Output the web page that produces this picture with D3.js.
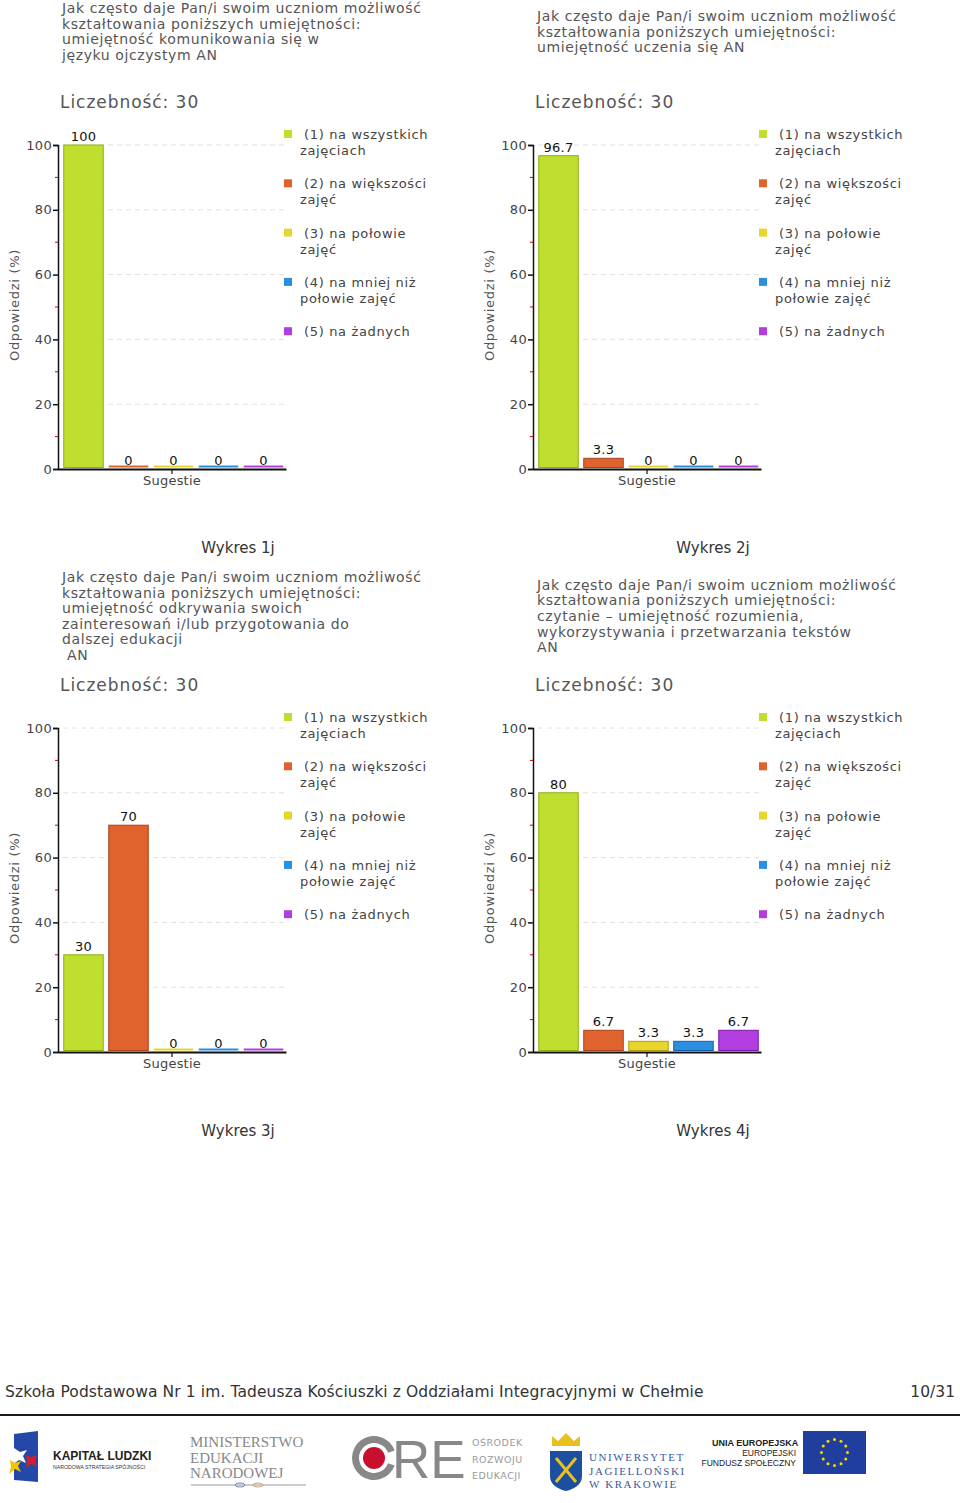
<!DOCTYPE html>
<html><head><meta charset="utf-8">
<script src="https://cdn.jsdelivr.net/npm/d3@7"></script>
<style>
html,body{margin:0;padding:0;background:#fff;}
svg{display:block;font-family:"DejaVu Sans",Verdana,sans-serif;}
</style></head>
<body>
<svg id="page" width="960" height="1503"></svg>
<script>
// ---------- data ----------
const categories = [
  ["(1) na wszystkich", "zajęciach"],
  ["(2) na większości", "zajęć"],
  ["(3) na połowie", "zajęć"],
  ["(4) na mniej niż", "połowie zajęć"],
  ["(5) na żadnych"]
];
const colors = ["#bedf2e", "#e0622c", "#e8d52e", "#2b8fe0", "#b33ee0"];
const strokes = ["#8fae12", "#a8421a", "#b0a010", "#1a5ea8", "#7a1aa8"];
const values1j = [100, 0, 0, 0, 0];
const values2j = [96.7, 3.3, 0, 0, 0];
const values3j = [30, 70, 0, 0, 0];
const values4j = [80, 6.7, 3.3, 3.3, 6.7];
const yTicks = [0, 20, 40, 60, 80, 100];
const yMinorTicks = [10, 30, 50, 70, 90];
const xCategory = ["Sugestie"];
const sampleSize = 30;
const title1j = ["Jak często daje Pan/i swoim uczniom możliwość", "kształtowania poniższych umiejętności:", "umiejętność komunikowania się w", "języku ojczystym AN"];
const title2j = ["Jak często daje Pan/i swoim uczniom możliwość", "kształtowania poniższych umiejętności:", "umiejętność uczenia się AN"];
const title3j = ["Jak często daje Pan/i swoim uczniom możliwość", "kształtowania poniższych umiejętności:", "umiejętność odkrywania swoich", "zainteresowań i/lub przygotowania do", "dalszej edukacji", " AN"];
const title4j = ["Jak często daje Pan/i swoim uczniom możliwość", "kształtowania poniższych umiejętności:", "czytanie – umiejętność rozumienia,", "wykorzystywania i przetwarzania tekstów", "AN"];
const captions = ["Wykres 1j", "Wykres 2j", "Wykres 3j", "Wykres 4j"];
const footerText = "Szkoła Podstawowa Nr 1 im. Tadeusza Kościuszki z Oddziałami Integracyjnymi w Chełmie";
const pageNumber = "10/31";

const charts = [
  {values: values1j, title: title1j, caption: captions[0], ox: 0,   oy: 0,   tc: 31.5},
  {values: values2j, title: title2j, caption: captions[1], ox: 475, oy: 0,   tc: 31.5},
  {values: values3j, title: title3j, caption: captions[2], ox: 0,   oy: 583, tc: 33},
  {values: values4j, title: title4j, caption: captions[3], ox: 475, oy: 583, tc: 33}
];

const svg = d3.select("#page");

function drawChart(cfg) {
  const g = svg.append("g").attr("transform", `translate(${cfg.ox},${cfg.oy})`);
  // title
  const lh = 15.6;
  const first = cfg.tc - (cfg.title.length - 1) * lh / 2;
  g.append("g").selectAll("text").data(cfg.title).join("text")
    .attr("x", 62).attr("y", (d, i) => first + i * lh + 5)
    .attr("font-size", 14).attr("fill", "#555").attr("letter-spacing", 0.6)
    .style("white-space", "pre")
    .text(d => d);
  g.append("text").attr("x", 60).attr("y", 108)
    .attr("font-size", 17).attr("fill", "#555").attr("letter-spacing", 0.95)
    .text("Liczebność: " + sampleSize);

  const axisX = 58, x0 = 61, x1 = 286;
  const y = d3.scaleLinear().domain([0, 100]).range([469, 145]);
  const x = d3.scaleBand().domain(d3.range(cfg.values.length)).range([x0, x1])
    .paddingInner(0.1).paddingOuter(0.05);

  // gridlines
  g.append("g").selectAll("line").data(yTicks.filter(d => d > 0)).join("line")
    .attr("x1", x0 + 2).attr("x2", x1).attr("y1", d => y(d)).attr("y2", d => y(d))
    .attr("stroke", "#e0e0e0").attr("stroke-dasharray", "5,4");

  // bars
  const base = y(0) - 1.5;
  g.append("g").selectAll("rect").data(cfg.values).join("rect")
    .attr("x", (d, i) => x(i) + 0.5)
    .attr("y", d => Math.min(y(d), base - 2))
    .attr("width", x.bandwidth() - 1)
    .attr("height", d => base - Math.min(y(d), base - 2))
    .attr("fill", (d, i) => colors[i])
    .attr("stroke", (d, i) => d > 0 ? strokes[i] : "none")
    .attr("stroke-width", 1);

  // value labels
  g.append("g").selectAll("text").data(cfg.values).join("text")
    .attr("x", (d, i) => x(i) + x.bandwidth() / 2)
    .attr("y", d => y(d) - 4)
    .attr("text-anchor", "middle").attr("font-size", 13).attr("fill", "#111")
    .attr("letter-spacing", 0.3)
    .text(d => d3.format("~g")(d));

  // y axis
  const ya = g.append("g").attr("transform", `translate(${axisX},0)`)
    .call(d3.axisLeft(y).tickValues(yTicks).tickSize(5).tickPadding(1).tickFormat(d3.format("d")));
  ya.select(".domain").attr("stroke", "#111").attr("stroke-width", 1.5);
  ya.selectAll(".tick line").attr("stroke", "#111").attr("stroke-width", 1.5);
  ya.selectAll(".tick text").attr("font-size", 13).attr("fill", "#444")
    .attr("font-family", "DejaVu Sans, Verdana, sans-serif").attr("letter-spacing", 0.3);
  g.append("g").selectAll("line").data(yMinorTicks).join("line")
    .attr("x1", axisX - 3).attr("x2", axisX).attr("y1", d => y(d)).attr("y2", d => y(d))
    .attr("stroke", "#c00").attr("stroke-width", 1);

  // x axis
  const xc = d3.scaleBand().domain(xCategory).range([axisX, x1]);
  const xa = g.append("g").attr("transform", `translate(0,${y(0)})`)
    .call(d3.axisBottom(xc).tickSize(5).tickPadding(2).tickSizeOuter(0));
  xa.select(".domain").attr("stroke", "#111").attr("stroke-width", 2);
  xa.selectAll(".tick line").attr("stroke", "#111").attr("stroke-width", 1.2);
  xa.selectAll(".tick text").attr("font-size", 13).attr("fill", "#444")
    .attr("font-family", "DejaVu Sans, Verdana, sans-serif").attr("letter-spacing", 0.2);

  // y title
  g.append("text").attr("transform", `translate(19,${(y(0) + y(100)) / 2 - 2}) rotate(-90)`)
    .attr("text-anchor", "middle").attr("font-size", 13).attr("fill", "#555")
    .attr("letter-spacing", 0.7)
    .text("Odpowiedzi (%)");

  // legend
  const lg = g.append("g").selectAll("g").data(categories).join("g")
    .attr("transform", (d, i) => `translate(284,${134 + i * 49.3})`);
  lg.append("rect").attr("x", 0).attr("y", -4).attr("width", 8).attr("height", 8)
    .attr("fill", (d, i) => colors[i]);
  lg.each(function(d) {
    const s = d3.select(this);
    d.forEach((line, j) => {
      s.append("text").attr("x", j === 0 ? 20 : 16).attr("y", 5 + j * 16)
        .attr("font-size", 13).attr("fill", "#444").attr("letter-spacing", 0.65)
        .text(line);
    });
  });

  // caption
  g.append("text").attr("x", 238).attr("y", 553).attr("text-anchor", "middle")
    .attr("font-size", 15).attr("fill", "#333").text(cfg.caption);
}

charts.forEach(drawChart);

// ---------- footer ----------
svg.append("text").attr("x", 5).attr("y", 1397).attr("font-size", 15.5).attr("fill", "#333")
  .attr("letter-spacing", 0.1).text(footerText);
svg.append("text").attr("x", 955).attr("y", 1397).attr("text-anchor", "end")
  .attr("font-size", 15.5).attr("fill", "#333").text(pageNumber);
svg.append("line").attr("x1", 0).attr("x2", 960).attr("y1", 1415).attr("y2", 1415)
  .attr("stroke", "#1a1a1a").attr("stroke-width", 2);

// logos (approximate)
const logo = svg.append("g");
// Kapitał Ludzki
logo.append("path").attr("d", "M14,1434 L38,1431 L38,1482 L14,1480 Z").attr("fill", "#2548a8");
logo.append("path").attr("d", "M14,1448 L20,1452 L27,1450 L23,1456 L26,1463 L19,1460 L12,1465 L14,1457 Z").attr("fill", "#fff");
logo.append("path").attr("d", "M10,1460 L15,1463 L21,1461 L18,1466 L21,1472 L15,1469 L9,1474 L11,1467 Z").attr("fill", "#f5c400");
logo.append("path").attr("d", "M26,1455 L31,1457 L37,1455 L35,1461 L37,1466 L31,1464 L26,1468 L27,1461 Z").attr("fill", "#d0202a");
logo.append("text").attr("x", 53).attr("y", 1460).attr("font-size", 12).attr("font-weight", "bold")
  .attr("fill", "#222").attr("font-family", "Liberation Sans Narrow, Liberation Sans, sans-serif").text("KAPITAŁ LUDZKI");
logo.append("text").attr("x", 53).attr("y", 1469).attr("font-size", 5.2)
  .attr("fill", "#333").attr("font-family", "Liberation Sans Narrow, Liberation Sans, sans-serif").text("NARODOWA STRATEGIA SPÓJNOŚCI");
// MEN
["MINISTERSTWO", "EDUKACJI", "NARODOWEJ"].forEach((t, i) => {
  logo.append("text").attr("x", 190).attr("y", 1447 + i * 15.5).attr("font-size", 15)
    .attr("font-family", "Liberation Serif, serif").attr("fill", "#888").text(t);
});
logo.append("line").attr("x1", 191).attr("x2", 306).attr("y1", 1485).attr("y2", 1485)
  .attr("stroke", "#bbb").attr("stroke-width", 1.5);
logo.append("ellipse").attr("cx", 240).attr("cy", 1485).attr("rx", 5).attr("ry", 2).attr("fill", "none").attr("stroke", "#6a8ab0");
logo.append("ellipse").attr("cx", 258).attr("cy", 1485).attr("rx", 5).attr("ry", 2).attr("fill", "none").attr("stroke", "#d0a070");
// ORE
logo.append("path").attr("d", d3.arc()({innerRadius: 15, outerRadius: 22, startAngle: 0.35, endAngle: 2 * Math.PI - 0.35}))
  .attr("transform", "translate(374,1458) rotate(90)").attr("fill", "#888");
logo.append("circle").attr("cx", 374).attr("cy", 1458).attr("r", 11).attr("fill", "#c8102e");
logo.append("text").attr("x", 392).attr("y", 1478).attr("font-size", 53).attr("fill", "#888")
  .attr("font-family", "Liberation Sans Narrow, Liberation Sans, sans-serif").text("RE");
["OŚRODEK", "ROZWOJU", "EDUKACJI"].forEach((t, i) => {
  logo.append("text").attr("x", 472).attr("y", 1446 + i * 16.5).attr("font-size", 9.5)
    .attr("fill", "#999").attr("letter-spacing", 0.5).text(t);
});
// UJ
logo.append("path").attr("d", "M552,1446 L552,1436 L558,1441 L566,1433 L574,1441 L580,1436 L580,1446 Z").attr("fill", "#e8c020");
logo.append("path").attr("d", "M550,1451 L582,1451 L582,1476 Q582,1487 566,1491 Q550,1487 550,1476 Z").attr("fill", "#1d4fa0");
logo.append("path").attr("d", "M556,1458 L576,1482 M576,1458 L556,1482").attr("stroke", "#e8c020").attr("stroke-width", 3);
["UNIWERSYTET", "JAGIELLOŃSKI", "W KRAKOWIE"].forEach((t, i) => {
  logo.append("text").attr("x", 589).attr("y", 1461 + i * 13.5).attr("font-size", 11)
    .attr("font-family", "Liberation Serif, serif").attr("fill", "#3a5a9a").attr("letter-spacing", 1.6).text(t);
});
// UE
logo.append("text").attr("x", 712).attr("y", 1446).attr("font-size", 9).attr("font-weight", "bold")
  .attr("fill", "#222").attr("font-family", "Liberation Sans Narrow, Liberation Sans, sans-serif").text("UNIA EUROPEJSKA");
logo.append("text").attr("x", 796).attr("y", 1456).attr("text-anchor", "end").attr("font-size", 8.5)
  .attr("fill", "#222").attr("font-family", "Liberation Sans Narrow, Liberation Sans, sans-serif").text("EUROPEJSKI");
logo.append("text").attr("x", 796).attr("y", 1466).attr("text-anchor", "end").attr("font-size", 8.5)
  .attr("fill", "#222").attr("font-family", "Liberation Sans Narrow, Liberation Sans, sans-serif").text("FUNDUSZ SPOŁECZNY");
logo.append("rect").attr("x", 803).attr("y", 1431).attr("width", 63).attr("height", 43).attr("fill", "#1f3e9e");
d3.range(12).forEach(i => {
  const a = i / 12 * 2 * Math.PI;
  logo.append("circle").attr("cx", 834.5 + 13 * Math.cos(a)).attr("cy", 1452.5 + 13 * Math.sin(a))
    .attr("r", 1.5).attr("fill", "#f5dd00");
});
</script>
</body></html>
